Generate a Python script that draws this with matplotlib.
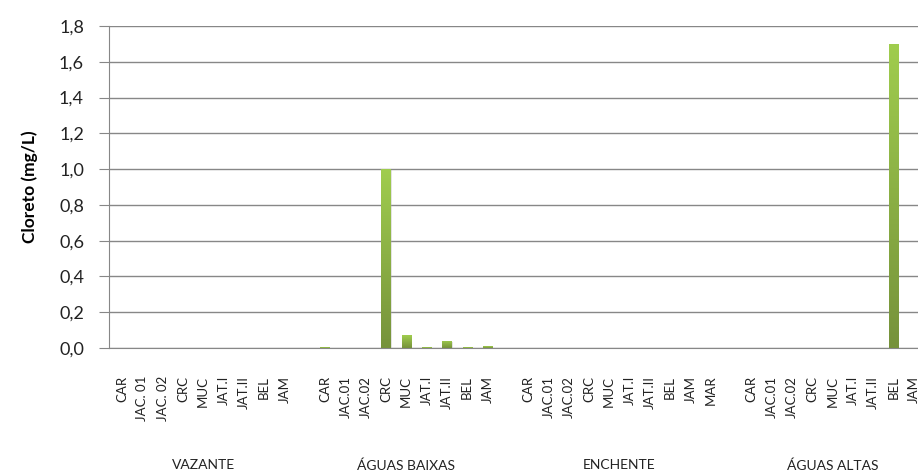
import matplotlib
matplotlib.use('Agg')
import matplotlib.pyplot as plt
import numpy as np
from matplotlib.colors import LinearSegmentedColormap

plt.rcParams['font.family'] = ['Lato', 'DejaVu Sans']

periods = ['VAZANTE', 'ÁGUAS BAIXAS', 'ENCHENTE', 'ÁGUAS ALTAS']
stations_vazante = ['CAR', 'JAC. 01', 'JAC. 02', 'CRC', 'MUC', 'JAT.I', 'JAT.II', 'BEL', 'JAM']
stations_baixas = ['CAR', 'JAC.01', 'JAC.02', 'CRC', 'MUC', 'JAT.I', 'JAT.II', 'BEL', 'JAM']
stations_enchente = ['CAR', 'JAC.01', 'JAC.02', 'CRC', 'MUC', 'JAT.I', 'JAT.II', 'BEL', 'JAM', 'MAR']
stations_altas = ['CAR', 'JAC.01', 'JAC.02', 'CRC', 'MUC', 'JAT.I', 'JAT.II', 'BEL', 'JAM']

values_vazante = [0, 0, 0, 0, 0, 0, 0, 0, 0]
values_baixas = [0.005, 0, 0, 1.0, 0.07, 0.005, 0.04, 0.005, 0.01]
values_enchente = [0, 0, 0, 0, 0, 0, 0, 0, 0, 0]
values_altas = [0, 0, 0, 0, 0, 0, 0, 1.7, 0]

yticks = [0.0, 0.2, 0.4, 0.6, 0.8, 1.0, 1.2, 1.4, 1.6, 1.8]
ytick_labels = ['0,0', '0,2', '0,4', '0,6', '0,8', '1,0', '1,2', '1,4', '1,6', '1,8']

groups = [stations_vazante, stations_baixas, stations_enchente, stations_altas]
gvalues = [values_vazante, values_baixas, values_enchente, values_altas]

fig = plt.figure(figsize=(9.18, 4.70), dpi=100)
ax = fig.add_axes([109/918, 1-348/470, 1-109/918, (348-26)/470])

xs, labels, vals, centers = [], [], [], []
pos = 0
for st, v in zip(groups, gvalues):
    start = pos
    for s, val in zip(st, v):
        xs.append(pos); labels.append(s); vals.append(val)
        pos += 1
    centers.append((start + pos - 1) / 2)
    pos += 1

slot = 20.3
xmin = -(122 - 109) / slot
xmax = (918 - 122) / slot
ax.set_xlim(xmin, xmax)
ax.set_ylim(0, 1.8)

ax.set_axisbelow(True)
ax.yaxis.grid(True, color='#878787', linewidth=1.0)

bars = ax.bar(xs, vals, width=0.45, color='#8db443', zorder=2, linewidth=0)
cmap = LinearSegmentedColormap.from_list('g', ['#76923b', '#a0cd4e'])
grad = np.linspace(0, 1, 256).reshape(-1, 1)
for b in bars:
    h = b.get_height()
    if h <= 0:
        continue
    x0 = b.get_x(); w = b.get_width()
    ax.bar(x0 + w/2 + 0.06, h, width=w, bottom=-0.004, color='#b0b0b0', alpha=0.35, zorder=1.5, linewidth=0)
    im = ax.imshow(grad, extent=[x0, x0 + w, 0, h], origin='lower', cmap=cmap,
                   aspect='auto', zorder=3)
    im.set_clip_path(b)

ax.set_xticks(xs)
ax.set_xticklabels(labels, rotation=90, fontsize=9.5, va='top', color='#222222')
ax.tick_params(axis='x', length=0, pad=20)
ax.set_yticks(yticks)
ax.set_yticklabels(ytick_labels, fontsize=13, color='#222222')
ax.tick_params(axis='y', length=7, color='#878787', pad=11)

for sp in ['top', 'right']:
    ax.spines[sp].set_visible(False)
ax.spines['left'].set_color('#878787')
ax.spines['bottom'].set_color('#878787')

ax.set_ylabel('Cloreto (mg/L)', fontsize=12.5, fontweight='bold')
ax.yaxis.set_label_coords(-0.088, 0.5)

for c, p in zip(centers, periods):
    ax.text(c, -0.345, p, transform=ax.get_xaxis_transform(), ha='center', va='top',
            fontsize=10, color='#222222')

fig.savefig('out.png', dpi=100)
